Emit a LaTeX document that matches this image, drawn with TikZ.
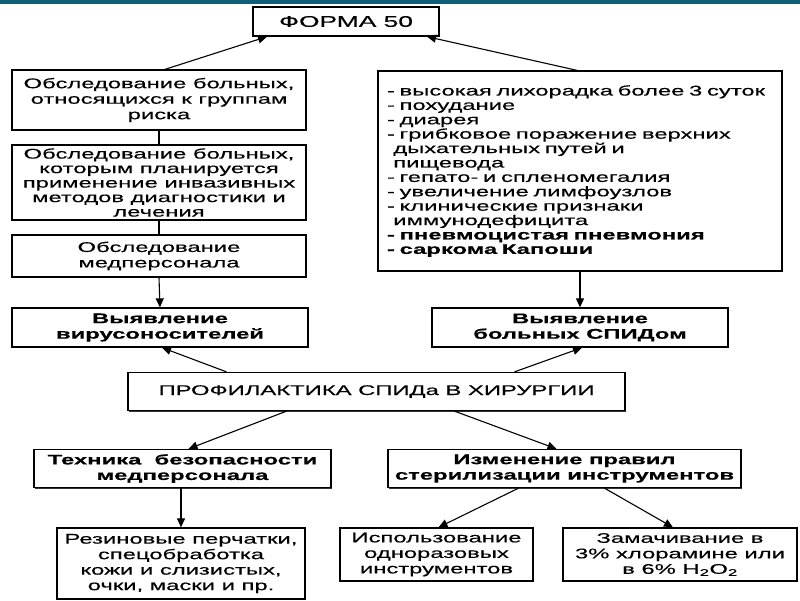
\documentclass[tikz,border=0pt]{standalone}
\usepackage{fontspec}
\setmainfont[FakeStretch=1.7,FakeBold=0.35]{Liberation Sans}
\usetikzlibrary{arrows.meta,shadows}
\definecolor{barteal}{HTML}{0E5F78}
\begin{document}
\begin{tikzpicture}[x=1pt,y=-1pt,
  box/.style={draw=black,line width=1.3pt,fill=white,inner sep=2pt,
    align=center,font=\fontsize{14}{15.5}\selectfont,
    drop shadow={shadow xshift=1.2pt,shadow yshift=-1.2pt,fill=black,opacity=0.8}},
  bbox/.style={box,font=\fontsize{14}{15.5}\selectfont\bfseries},
  arr/.style={line width=1.1pt,-{Triangle[length=9pt,width=8pt]}},
  conn/.style={line width=1.1pt}]
\useasboundingbox (0,0) rectangle (800,600);
\fill[white] (0,0) rectangle (800,600);
\fill[barteal] (0,0) rectangle (800,4);

\node[box,minimum width=186,minimum height=29,font=\fontsize{15.5}{16}\selectfont] (forma) at (346,21.5) {ФОРМА 50};
\node[box,minimum width=294,minimum height=60] (l1) at (159,100)
  {Обследование больных,\\относящихся к группам\\риска};
\node[box,minimum width=294,minimum height=75,font=\fontsize{14}{14.5}\selectfont] (l2) at (159,182.5)
  {Обследование больных,\\которым планируется\\применение инвазивных\\методов диагностики и\\лечения};
\node[box,minimum width=294,minimum height=42] (l3) at (159,256)
  {Обследование\\медперсонала};
\node[box,minimum width=404,minimum height=200,align=left,text width=386,
  font=\fontsize{14}{14.4}\selectfont] (rl) at (580,171)
  {- высокая лихорадка более 3 суток\\
   - похудание\\
   - диарея\\
   - грибковое поражение верхних\\
   \hspace*{0.45em}дыхательных путей и\\
   \hspace*{0.45em}пищевода\\
   - гепато- и спленомегалия\\
   - увеличение лимфоузлов\\
   - клинические признаки\\
   \hspace*{0.45em}иммунодефицита\\
   \textbf{- пневмоцистая пневмония}\\
   \textbf{- саркома Капоши}};
\node[bbox,minimum width=296,minimum height=39] (v1) at (160,327.5)
  {Выявление\\вирусоносителей};
\node[bbox,minimum width=296,minimum height=39] (v2) at (580,327.5)
  {Выявление\\больных СПИДом};
\node[box,minimum width=497,minimum height=38] (pr) at (376.5,391.5)
  {ПРОФИЛАКТИКА СПИДа В ХИРУРГИИ};
\node[bbox,minimum width=297,minimum height=38] (t1) at (182.5,468.5)
  {Техника\ \ безопасности\\медперсонала};
\node[bbox,minimum width=353,minimum height=38] (t2) at (564.5,468.5)
  {Изменение правил\\стерилизации инструментов};
\node[box,minimum width=248,minimum height=71] (b1) at (181,563.5)
  {Резиновые перчатки,\\спецобработка\\кожи и слизистых,\\очки, маски и пр.};
\node[box,minimum width=193,minimum height=53] (b2) at (436.5,554.5)
  {Использование\\одноразовых\\инструментов};
\node[box,minimum width=234,minimum height=53] (b3) at (680,554.5)
  {Замачивание в\\3\% хлорамине или\\в 6\% H\textsubscript{2}O\textsubscript{2}};

\draw[arr] ([xshift=6]l1.north) -- ([xshift=-79]forma.south);
\draw[arr] ([xshift=-3]rl.north) -- ([xshift=81]forma.south);
\draw[conn] (l1.south) -- (l2.north);
\draw[conn] (l2.south) -- (l3.north);
\draw[arr] (l3.south) -- (v1.north);
\draw[arr] (rl.south) -- (v2.north);
\draw[arr] ([xshift=-150]pr.north) -- ([xshift=2]v1.south);
\draw[arr] ([xshift=138]pr.north) -- ([xshift=2]v2.south);
\draw[arr] ([xshift=-90]pr.south) -- ([xshift=6]t1.north);
\draw[arr] ([xshift=78]pr.south) -- ([xshift=-8]t2.north);
\draw[arr] (b1.north |- t1.south) -- (b1.north);
\draw[arr] ([xshift=-46]t2.south) -- ([xshift=2]b2.north);
\draw[arr] ([xshift=40]t2.south) -- ([xshift=-7]b3.north);
\end{tikzpicture}
\end{document}
